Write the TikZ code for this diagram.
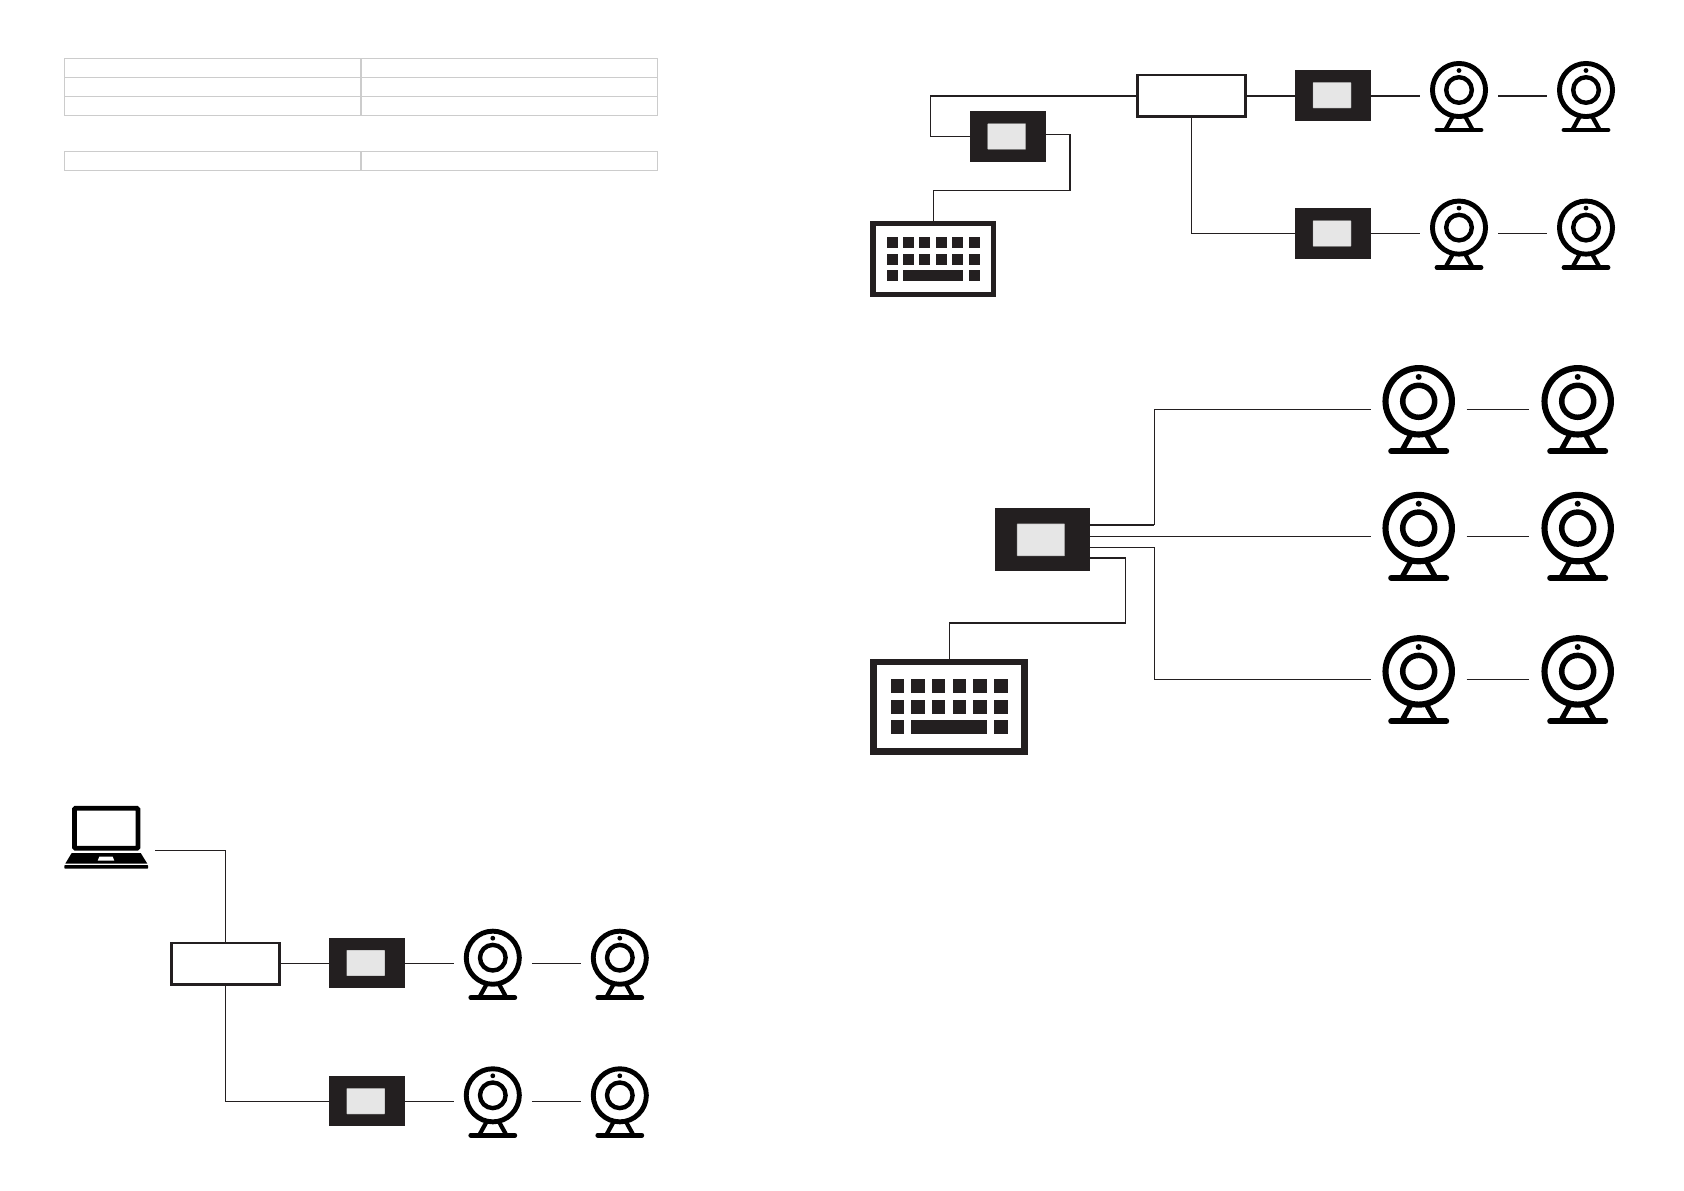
\documentclass[tikz,border=0pt]{standalone}
\definecolor{ink}{HTML}{231F20}
\definecolor{scr}{HTML}{E6E6E6}
\definecolor{tbl}{HTML}{CCCCCC}
\tikzset{
  px/.style={line width=#1*0.05cm},
  wire/.style={draw=ink,px=1.6,line cap=butt,line join=miter},
  thinwire/.style={draw=ink,px=1.3,line join=miter},
  cell/.style={draw=tbl,px=1,rectangle,inner sep=0pt,outer sep=0pt,minimum width=296*0.05cm,minimum height=19*0.05cm,anchor=north west},
  hubbox/.style={draw=ink,fill=white,px=2.6,rectangle,inner sep=0pt,outer sep=0pt,minimum width=108.2*0.05cm,minimum height=41.4*0.05cm},
}
% device: name, x, y, scale
\newcommand\device[4]{%
\begin{scope}[shift={(#2,#3)},x=#4*0.05cm,y=-#4*0.05cm]
\node[fill=ink,rectangle,inner sep=0pt,outer sep=0pt,minimum width=#4*76*0.05cm,minimum height=#4*50.7*0.05cm] (#1) at (38,25.35) {};
\node[fill=scr,draw=scr!70!black,px=0.3,rectangle,rounded corners=0.6pt,inner sep=0pt,outer sep=0pt,minimum width=#4*38*0.05cm,minimum height=#4*25.6*0.05cm] (#1s) at (36.7,25.5) {};
\end{scope}}
% webcam: name, x, y, scale
\newcommand\webcam[4]{%
\begin{scope}[shift={(#2,#3)},x=#4*0.05cm,y=-#4*0.05cm]
\node[circle,draw=black,line width=#4*4.9*0.05cm,inner sep=0pt,outer sep=0pt,minimum size=#4*53.1*0.05cm] (#1) at (0,0) {};
\node[circle,draw=black,line width=#4*4.4*0.05cm,inner sep=0pt,outer sep=0pt,minimum size=#4*25.6*0.05cm] (#1l) at (0,0) {};
\node[circle,fill=black,inner sep=0pt,outer sep=0pt,minimum size=#4*4.8*0.05cm] (#1d) at (0,-19.5) {};
\draw[black,line width=#4*4.2*0.05cm] (-6.5,27) -- (-13.4,39.5) (6.5,27) -- (13.4,39.5);
\draw[black,line width=#4*4.8*0.05cm,line cap=round] (-22,39.9) -- (22,39.9);
\end{scope}}
% keyboard: name, x, y, scale
\newcommand\keyboard[4]{%
\begin{scope}[shift={(#2,#3)},x=#4*0.05cm,y=-#4*0.05cm]
\node[draw=ink,fill=white,line width=#4*5.3*0.05cm,rectangle,inner sep=0pt,outer sep=0pt,minimum width=#4*120.4*0.05cm,minimum height=#4*71*0.05cm] (#1) at (62.85,38.15) {};
\foreach \kx in {16.3,32.7,49,65.7,82,98.7}{
  \foreach \ky in {16,32.7}{\fill[ink] (\kx,\ky) rectangle ++(11,11);}}
\fill[ink] (16.3,49) rectangle ++(11,11);
\fill[ink] (32.7,49) rectangle (93,60);
\fill[ink] (98.7,49) rectangle ++(11,11);
\end{scope}}
% group: prefix, dx, dy, style of the upper row wires
\newcommand\camgroup[4]{%
\begin{scope}[shift={(#2,#3)}]
\coordinate (#1a1) at (1420,96);\coordinate (#1a2) at (1498,96);\coordinate (#1a3) at (1546.7,96);
\coordinate (#1b1) at (1420,233.5);\coordinate (#1b2) at (1498,233.5);\coordinate (#1b3) at (1546.7,233.5);
\coordinate (#1e) at (1191.5,233.5);
\node[hubbox] (#1hub) at (1191.5,95.9) {};
\device{#1da}{1295.3}{69.8}{1}
\device{#1db}{1295.3}{208}{1}
\webcam{#1ca1}{1459}{90}{1}
\webcam{#1ca2}{1586}{90}{1}
\webcam{#1cb1}{1459}{227.6}{1}
\webcam{#1cb2}{1586}{227.6}{1}
\draw[#4] (#1hub.east) -- (#1da.west |- #1hub.east);
\draw[thinwire] (#1hub.south) -- (#1e) -- (#1db.west |- #1e);
\draw[#4] (#1da.east |- #1a1) -- (#1a1);
\draw[#4] (#1a2) -- (#1a3);
\draw[thinwire] (#1db.east |- #1b1) -- (#1b1);
\draw[thinwire] (#1b2) -- (#1b3);
\end{scope}}
\begin{document}
\begin{tikzpicture}[x=0.05cm,y=-0.05cm]
\useasboundingbox (0,0) rectangle (1684,1191);
% tables
\node[cell] (t11) at (64.5,58.3) {};
\node[cell] (t12) at (361.5,58.3) {};
\node[cell] (t21) at (64.5,77.3) {};
\node[cell] (t22) at (361.5,77.3) {};
\node[cell] (t31) at (64.5,96.3) {};
\node[cell] (t32) at (361.5,96.3) {};
\node[cell] (t41) at (64.5,151.3) {};
\node[cell] (t42) at (361.5,151.3) {};
% top right
\camgroup{p}{0}{0}{wire}
\device{d0}{970}{111}{1}
\keyboard{k1}{870.3}{221}{1}
\coordinate (a1) at (930.3,95.9);
\coordinate (a2) at (930.3,136.3);
\coordinate (a3) at (1046,134.3);
\coordinate (a4) at (1070,134.3);
\coordinate (a5) at (1070,190.3);
\coordinate (a6) at (933.3,190.3);
\draw[wire] (phub.west) -- (a1);
\draw[thinwire] (a1) -- (a2) -- (d0.west |- a2);
\draw[thinwire] (a3) -- (a4) -- (a5) -- (a6) -- (a6 |- k1.north);
% middle
\device{d2}{995}{508}{1.25}
\keyboard{k2}{870}{658.8}{1.257}
\webcam{m11}{1418.7}{401.3}{1.25}
\webcam{m12}{1577.7}{401.3}{1.25}
\webcam{m21}{1418.7}{528.1}{1.25}
\webcam{m22}{1577.7}{528.1}{1.25}
\webcam{m31}{1418.7}{671.4}{1.25}
\webcam{m32}{1577.7}{671.4}{1.25}
\coordinate (b1) at (1090,524.7);
\coordinate (b2) at (1154.3,524.7);
\coordinate (b3) at (1154.3,409.2);
\coordinate (b4) at (1370.5,409.2);
\coordinate (c1) at (1090,536.3);
\coordinate (c2) at (1370.5,536.3);
\coordinate (e1) at (1090,547.7);
\coordinate (e2) at (1154.3,547.7);
\coordinate (e3) at (1154.3,679.3);
\coordinate (e4) at (1370.5,679.3);
\coordinate (f1) at (1090,557.7);
\coordinate (f2) at (1125.3,557.7);
\coordinate (f3) at (1125.3,622.7);
\coordinate (f4) at (949.3,622.7);
\coordinate (g1) at (1466.7,409.2);\coordinate (g2) at (1529,409.2);
\coordinate (g3) at (1466.7,536.3);\coordinate (g4) at (1529,536.3);
\coordinate (g5) at (1466.7,679.3);\coordinate (g6) at (1529,679.3);
\draw[wire] (b1) -- (b2);
\draw[thinwire] (b2) -- (b3) -- (b4);
\draw[thinwire] (c1) -- (c2);
\draw[thinwire] (e1) -- (e2) -- (e3) -- (e4);
\draw[wire] (f1) -- (f2) -- (f3) -- (f4) -- (f4 |- k2.north);
\draw[thinwire] (g1) -- (g2);
\draw[thinwire] (g3) -- (g4);
\draw[thinwire] (g5) -- (g6);
% bottom left
\camgroup{q}{-966.2}{867.7}{thinwire}
\node[draw=black,px=4.7,rectangle,rounded corners=1.5pt,fill=white,inner sep=0pt,outer sep=0pt,minimum width=63.6*0.05cm,minimum height=40*0.05cm] (lap) at (106.2,828.3) {};
\fill[black] (71.7,853) -- (140.7,853) -- (147.3,863.6) -- (65.3,863.6) -- cycle;
\fill[white] (99.3,856.7) -- (112.7,856.7) -- (114.3,860.7) -- (97.7,860.7) -- cycle;
\fill[black,rounded corners=1pt] (64.3,865) rectangle (148,868.7);
\coordinate (h1) at (155,850.3);
\coordinate (h2) at (225.3,850.3);
\draw[thinwire] (h1) -- (h2) -- (h2 |- qhub.north);
\end{tikzpicture}
\end{document}
